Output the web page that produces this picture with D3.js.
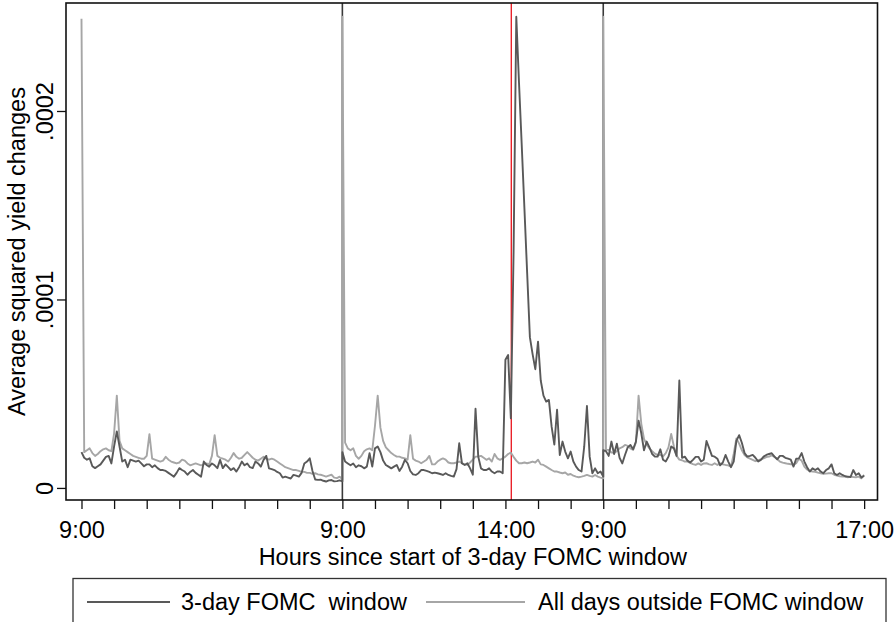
<!DOCTYPE html>
<html>
<head>
<meta charset="utf-8">
<script src="https://cdn.jsdelivr.net/npm/d3@7/dist/d3.min.js"></script>
<style>
  html, body { margin: 0; padding: 0; background: #fff; }
  svg { display: block; font-family: "Liberation Sans", Arial, Helvetica, sans-serif; }
</style>
</head>
<body>
<svg id="chart" width="896" height="622"></svg>
<script>
// Average squared 5-minute yield changes, in units of 1e-6,
// one value per 5 minutes from 9:00 to 17:00 on each day of the window.
const fomcDay1 = [19,16,15,15.7,11.5,10.5,11.5,12.5,14.5,16.5,
  17,13,22,30,22,14,15,11,15,14.5,
  14,14.5,13,11.5,12.5,12.5,11,12,10.5,9.5,
  9.5,9,8,7,6,8,10.5,9.5,8.7,7,
  8.5,9.5,8,7,6,14,12.2,11.3,13,12,
  10.5,14.9,10.5,12.5,11,9.5,10.5,8.7,11,14,
  12,13,11,10.5,14,13,11.3,14.9,17,10.4,
  10,9.5,8.5,7.8,5.5,6,5.5,5,6.9,6.5,
  6,8,13,14,15.7,9,4.5,4.3,4.4,3.8,
  3.4,4,4.2,3.5,3.6,4,3.5];
const fomcDay2 = [19,14,13,12,13,11,12,11.5,10.4,11.3,
  18.4,11.3,21,22,19,14.5,12.2,11.3,10.4,11.3,
  12.2,9,11.3,14.9,13.1,9,7.2,6.9,7.8,9.5,
  9.5,9,8.5,7.8,8.1,7.8,7.4,6.9,7.8,6.9,
  6.4,6,10,23.7,13.1,12.2,13.1,10.4,7,42,
  16.6,10.4,9.5,9.5,10.4,8.7,7.8,8.7,8.7,7.8,
  68,70.5,37,125,250,215,182,148,114,80,
  71,63,77.6,57,49,45.8,46.7,32.5,23,41.5,
  17.5,24.6,19.3,15.7,19.3,14,11.3,9.5,8.7,22,
  43.5,16.6,7.8,10.4,7.8,8.7,6];
const fomcDay3 = [20,19.5,17,24.6,18,23.5,16,13,17.5,21.5,
  22.8,20.5,24.5,35.7,29,20,24.6,21.5,18,16.6,
  16.6,20.5,15,14,16.6,22,21,17,57,16,
  16.6,14.5,13.5,14.9,16.5,16.5,14,15,24.9,21,
  17,16.6,15.5,12,13.5,17.5,14,11,14,25,
  28,24,18.5,16.6,17,17.5,16,14,14.9,16.6,
  17.5,18,18.4,16.6,15.2,17,17,16,15.5,15,
  11.3,15.5,15.7,18.5,14,11,8.7,10.4,9.5,10.4,
  8.7,7.8,9.5,10.4,12.5,7.8,6.9,7.8,6.9,6.2,
  6,5.8,9.5,6.9,7.8,5.5,6.5];

const outsideDay1 = [249,19,20,21,18.5,17,18,19.5,20.5,21,
  20,19.5,29,49,25,21,20,19,18,17,
  16.5,16,15.5,15.5,17,28.5,15.5,15,14.5,14,
  14.5,16.5,15,14,13.5,13,13.5,15,14.5,13,
  12,12.5,13,12.5,12,12.5,13,12.5,17,28,
  17,16,15.5,15,14,16,18.5,16.5,15.5,16,
  17.5,19,17.5,16,15,14.5,15.5,16.5,15.5,15,
  15.5,15,14,13,12,11,10.5,10,9.5,9.5,
  9,8.5,8.5,8,8,7.5,7.8,7.2,7,6.5,
  6,6.5,7,5.5,5.2,6,4.5];
const outsideDay2 = [250,24,21,20,21,17,15.5,17,19.5,20.5,
  21,20,33,49,32,25,21.5,20,18.5,17.5,
  16.6,16.6,16,15.7,15,28,15.5,14.5,14,13.1,
  14,15,17,12.5,12.5,14,15,15.7,15,13.5,
  13.1,13.1,13.5,14,13.1,12.5,12.2,13.5,15,16.6,
  16.6,17,16,14.9,15.7,14,18,15.7,14.9,15.7,
  16.6,18,18.7,16.5,14.5,13.1,13.1,13.5,13.1,13.5,
  14,13.5,15,12.5,12.2,11.3,10.4,9.5,8.7,8.7,
  8.2,7.8,8.2,7,7.4,6.5,6,5.7,6,6.4,
  6.9,6.4,6,6.9,6,5.5,5.1];
const outsideDay3 = [250,20.2,20.2,18.8,18.6,19.5,21,21.6,22.8,22.3,
  21,20.2,24,49,34,26,23,21,19.5,18.2,
  17.5,17.5,16.8,18.5,21.5,28.6,22,17,15,14.7,
  14,14,13.3,12.6,12.2,13,12.2,13,13.1,12.5,
  12.2,13.1,12.2,13,12.5,12.2,12,11.3,18,26.3,
  23.5,20,17.5,16.2,15.5,14.9,14.2,14.7,15.2,15.7,
  16.4,16.6,17.3,16.5,15.3,14,13.4,13.1,12.8,12.6,
  12.2,13.1,15.5,14.5,11.3,9.8,8.9,8.7,8.6,8.1,
  7.8,7.5,7.6,7.8,7.8,7,6.6,6.2,6,6,
  5.7,6,5.8,5.7,6,5.1,6.9];

// Axis ticks (hours since 9:00 on day 1) and labels
const xLabelHours = [0, 8, 13, 16, 24];
const xLabels = ["9:00", "9:00", "14:00", "9:00", "17:00"];
const yTickValues = [0, 100, 200];            // x 1e-6
const yTickLabels = ["0", ".0001", ".0002"];
const dayBreakHours = [8, 16];
const announcementHour = 13.18;               // FOMC statement release, day 2
const seriesNames = ["3-day FOMC  window", "All days outside FOMC window"];

const HOURS_PER_DAY = 8, STEPS_PER_HOUR = 12;

function toPoints(days) {
  const pts = [];
  days.forEach((vals, d) => vals.forEach((v, k) => pts.push({ h: d * HOURS_PER_DAY + k / STEPS_PER_HOUR, v })));
  return pts;
}
const fomcSeries = toPoints([fomcDay1, fomcDay2, fomcDay3]);
const outsideSeries = toPoints([outsideDay1, outsideDay2, outsideDay3]);

const svg = d3.select("#chart");
const W = 896, H = 622;
const plot = { left: 66, right: 877.5, top: 3, bottom: 500 };
const FONT = 23.5;
const darkGray = "#595959", lightGray = "#a6a6a6";

const x = d3.scaleLinear().domain([-0.475, 24.41]).range([plot.left, plot.right]);
const y = d3.scaleLinear().domain([-6.4, 257.3]).range([plot.bottom, plot.top]);

svg.append("rect").attr("width", W).attr("height", H).attr("fill", "#fff");

// day boundaries
svg.append("g").selectAll("line").data(dayBreakHours).join("line")
  .attr("x1", d => x(d)).attr("x2", d => x(d))
  .attr("y1", plot.top).attr("y2", plot.bottom)
  .attr("stroke", "#3a3a3a").attr("stroke-width", 1.6);

// announcement time
svg.append("line")
  .attr("x1", x(announcementHour)).attr("x2", x(announcementHour))
  .attr("y1", plot.top).attr("y2", plot.bottom)
  .attr("stroke", "#e8141c").attr("stroke-width", 1.3);

const line = d3.line().x(d => x(d.h)).y(d => y(d.v));

svg.append("path").datum(outsideSeries)
  .attr("d", line).attr("fill", "none")
  .attr("stroke", lightGray).attr("stroke-width", 1.9)
  .attr("stroke-linejoin", "round");

svg.append("path").datum(fomcSeries)
  .attr("d", line).attr("fill", "none")
  .attr("stroke", darkGray).attr("stroke-width", 1.9)
  .attr("stroke-linejoin", "round");

// frame
svg.append("rect")
  .attr("x", plot.left).attr("y", plot.top)
  .attr("width", plot.right - plot.left).attr("height", plot.bottom - plot.top)
  .attr("fill", "none").attr("stroke", "#111").attr("stroke-width", 1.6);

// x axis: a tick every hour, labels only at day starts, 14:00 and 17:00
const xAxis = d3.axisBottom(x)
  .tickValues(d3.range(0, 25))
  .tickSize(9)
  .tickFormat(h => { const i = xLabelHours.indexOf(h); return i >= 0 ? xLabels[i] : ""; });
const gx = svg.append("g").attr("transform", `translate(0,${plot.bottom})`).call(xAxis);
gx.select(".domain").remove();
gx.selectAll(".tick line").attr("stroke", "#111").attr("stroke-width", 1.3);
gx.selectAll(".tick text").filter(function () { return this.textContent === ""; }).remove();
gx.selectAll(".tick text")
  .attr("y", 38).attr("dy", 0)
  .attr("fill", "#000").style("font-size", FONT + "px")
  .style("font-family", '"Liberation Sans", Arial, sans-serif');

// y axis
const yAxis = d3.axisLeft(y)
  .tickValues(yTickValues)
  .tickSize(9)
  .tickFormat((d, i) => yTickLabels[i]);
const gy = svg.append("g").attr("transform", `translate(${plot.left},0)`).call(yAxis);
gy.select(".domain").remove();
gy.selectAll(".tick line").attr("stroke", "#111").attr("stroke-width", 1.3);
gy.selectAll(".tick text")
  .attr("x", 0).attr("y", 0).attr("dy", 0)
  .attr("text-anchor", "middle")
  .attr("transform", "translate(-13,0) rotate(-90)")
  .attr("fill", "#000").style("font-size", FONT + "px")
  .style("font-family", '"Liberation Sans", Arial, sans-serif');

// axis titles
svg.append("text")
  .attr("x", (x(0) + x(24)) / 2).attr("y", 564.5)
  .attr("text-anchor", "middle").style("font-size", FONT + "px")
  .text("Hours since start of 3-day FOMC window");

svg.append("text")
  .attr("transform", `translate(25,${(plot.top + plot.bottom) / 2}) rotate(-90)`)
  .attr("text-anchor", "middle").style("font-size", FONT + "px")
  .text("Average squared yield changes");

// legend
const legend = svg.append("g");
legend.append("rect")
  .attr("x", 73).attr("y", 578.5).attr("width", 813).attr("height", 60)
  .attr("fill", "#fff").attr("stroke", "#333").attr("stroke-width", 1.3);
const legendItems = [
  { name: seriesNames[0], color: darkGray, x0: 87, x1: 170, tx: 181 },
  { name: seriesNames[1], color: lightGray, x0: 426, x1: 525, tx: 538 }
];
legendItems.forEach(it => {
  legend.append("line").attr("x1", it.x0).attr("x2", it.x1)
    .attr("y1", 602).attr("y2", 602)
    .attr("stroke", it.color).attr("stroke-width", 1.9);
  legend.append("text").attr("x", it.tx).attr("y", 610)
    .style("font-size", FONT + "px").style("white-space", "pre")
    .text(it.name);
});
</script>
</body>
</html>
